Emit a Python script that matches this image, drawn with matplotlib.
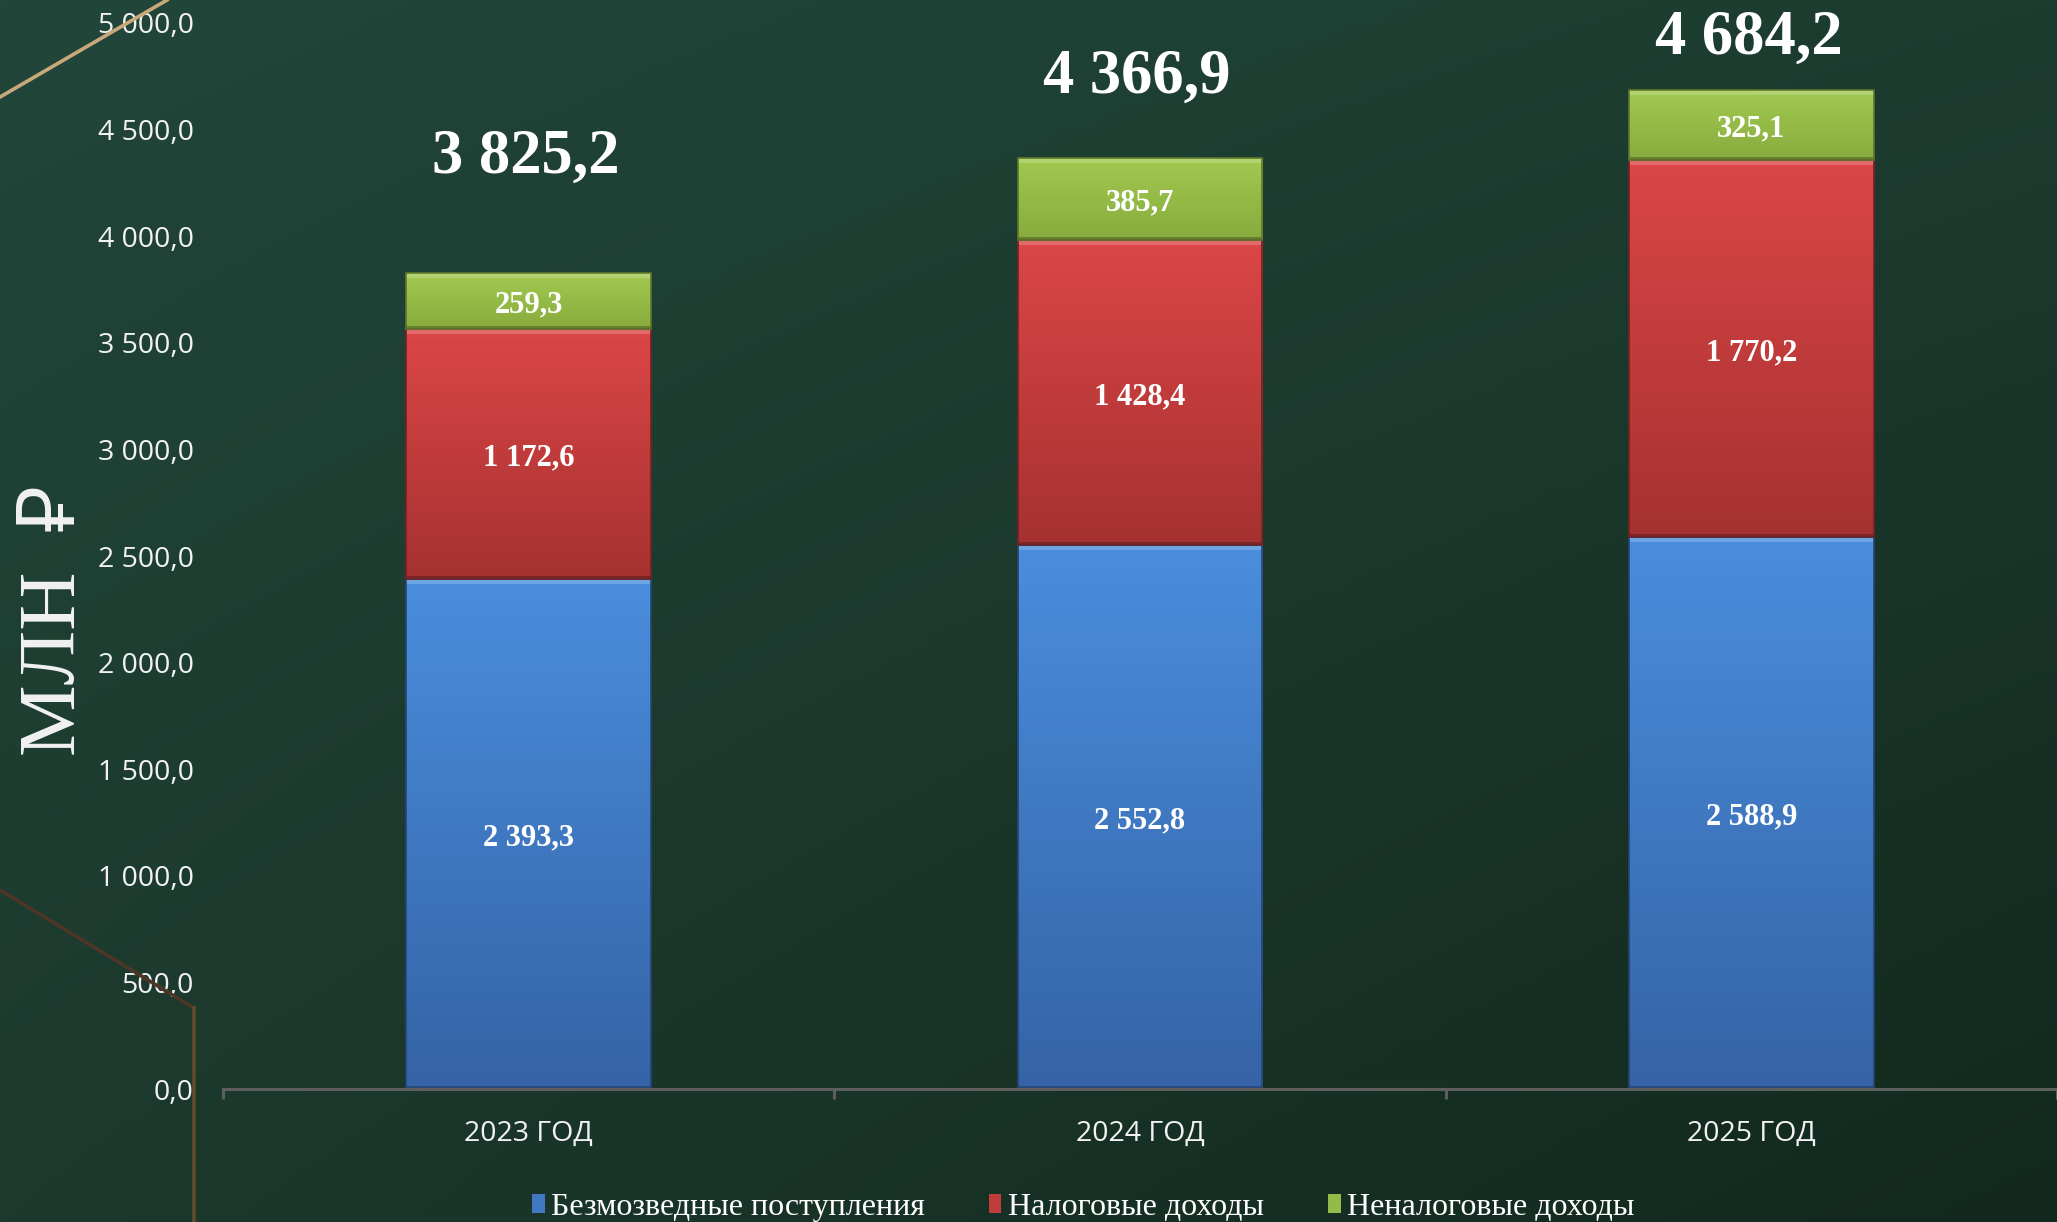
import numpy as np
import matplotlib.pyplot as plt
from matplotlib.colors import LinearSegmentedColormap, to_rgb
from matplotlib.patches import Rectangle
from matplotlib.lines import Line2D

# данные
years = ['2023 ГОД', '2024 ГОД', '2025 ГОД']
grants = [2393.3, 2552.8, 2588.9]
tax = [1172.6, 1428.4, 1770.2]
nontax = [259.3, 385.7, 325.1]
totals = [3825.2, 4366.9, 4684.2]
names = ['Безмозведные поступления', 'Налоговые доходы', 'Неналоговые доходы']
yticks = list(range(0, 5001, 500))

# оформление
total_offsets = [83, 58, 37]   # pt над столбцом
colors = [('#4a8edd', '#3563a6'), ('#dc4646', '#a63131'), ('#a2ca50', '#87ab3d')]
SERIF = ['Liberation Serif', 'DejaVu Serif']


def fmt(v):
    return f'{v:,.1f}'.replace(',', ' ').replace('.', ',')


def mix(c, other, t):
    a, b = np.array(to_rgb(c)), np.array(to_rgb(other))
    return tuple(a * (1 - t) + b * t)


fig = plt.figure(figsize=(20.57, 12.22), dpi=100)

# фон
bg = fig.add_axes([0, 0, 1, 1], zorder=-10)
tl, tr = np.array(to_rgb('#22463a')), np.array(to_rgb('#1d3c30'))
bl, br = np.array(to_rgb('#1c392d')), np.array(to_rgb('#12281d'))
u = np.linspace(0, 1, 300)[None, :, None]
v = np.linspace(0, 1, 200)[:, None, None]
img = (tl * (1 - u) + tr * u) * (1 - v) + (bl * (1 - u) + br * u) * v
bg.imshow(img, extent=[0, 1, 0, 1], aspect='auto', origin='upper')
bg.axis('off')

# декоративные линии
fig.add_artist(Line2D([0, 0.0812], [0.9206, 1.0], color='#c9a97a', lw=2.6,
                      transform=fig.transFigure))
fig.add_artist(Line2D([0, 0.0943], [0.2717, 0.1751], color='#4e3626', lw=2.6,
                      transform=fig.transFigure))
fig.add_artist(Line2D([0.0943, 0.0943], [0.1751, 0.0], color='#5f4c2c', lw=2.6,
                      transform=fig.transFigure))

ax = fig.add_axes([0.1084, 0.1088, 0.8916, 0.8724])
ax.set_facecolor('none')
x = np.arange(len(years))
width = 0.4
px_per_unit = 1066 / 5000

containers = []
bottom = np.zeros(len(years))
for vals, (ctop, cbot) in zip([grants, tax, nontax], colors):
    bars = ax.bar(x, vals, width, bottom=bottom, color=mix(ctop, cbot, 0.5),
                  edgecolor='none', zorder=1)
    containers.append(bars)
    cmap = LinearSegmentedColormap.from_list('g', [cbot, ctop])
    for p in bars.patches:
        x0, y0, w, h = p.get_x(), p.get_y(), p.get_width(), p.get_height()
        im = ax.imshow(np.linspace(1, 0, 256).reshape(-1, 1), cmap=cmap, vmin=0, vmax=1,
                       extent=[x0, x0 + w, y0, y0 + h], aspect='auto', origin='upper',
                       interpolation='bicubic', zorder=1.5)
        im.set_clip_path(p)
        bev = 5 / px_per_unit
        ax.add_patch(Rectangle((x0, y0 + h - bev), w, bev, color=mix(ctop, 'white', 0.25),
                               alpha=0.8, lw=0, zorder=1.6))
        ax.add_patch(Rectangle((x0, y0), w, 3 / px_per_unit, color=mix(cbot, 'black', 0.35),
                               alpha=0.7, lw=0, zorder=1.6))
        ax.add_patch(Rectangle((x0, y0), w, h, fill=False, edgecolor=mix(cbot, 'black', 0.3),
                               lw=1.2, zorder=1.7))
    texts = ax.bar_label(bars, labels=[fmt(val) for val in vals], label_type='center',
                         color='white', fontsize=22, fontweight='bold', family=SERIF, zorder=3)
    for t in texts:
        t.xyann = (0, -3)
    bottom += np.array(vals)

for xi, t, off in zip(x, totals, total_offsets):
    ax.annotate(fmt(t), (xi, t), xytext=(-2, off), textcoords='offset points',
                ha='center', va='center', color='white', fontsize=45,
                fontweight='bold', family=SERIF)

ax.set_xlim(-0.5, 2.5)
ax.set_ylim(0, 5000)
for s in ['top', 'right', 'left']:
    ax.spines[s].set_visible(False)
ax.spines['bottom'].set_color('#5e5e5e')
ax.spines['bottom'].set_linewidth(2.2)

ax.set_xticks(x, years)
ax.set_xticks([-0.5, 0.5, 1.5, 2.5], minor=True)
ax.tick_params(axis='x', which='major', length=0, pad=22, labelsize=20.5, labelcolor='#f2f2f2')
ax.tick_params(axis='x', which='minor', length=7, width=2.2, color='#5e5e5e')
ax.set_yticks(yticks, [fmt(t) for t in yticks])
ax.tick_params(axis='y', length=0, pad=21, labelsize=20.5, labelcolor='#f2f2f2')
for lab in ax.get_xticklabels() + ax.get_yticklabels():
    lab.set_family(['Open Sans', 'DejaVu Sans'])

fig.text(0.027, 0.4926, 'МЛН  ₽', rotation=90, ha='center', va='center',
         color='#f2f2f2', fontsize=58,
         family=['Liberation Serif', 'Noto Sans', 'DejaVu Sans'])

ax.legend([c.patches[0] for c in containers], names, loc='center',
          bbox_to_anchor=(0.5265, 0.012), bbox_transform=fig.transFigure, ncol=3,
          frameon=False, prop={'family': SERIF, 'size': 23}, labelcolor='white',
          handlelength=0.4, handleheight=0.55, handletextpad=0.2, columnspacing=2.0)

fig.savefig('out.png', dpi=100)
